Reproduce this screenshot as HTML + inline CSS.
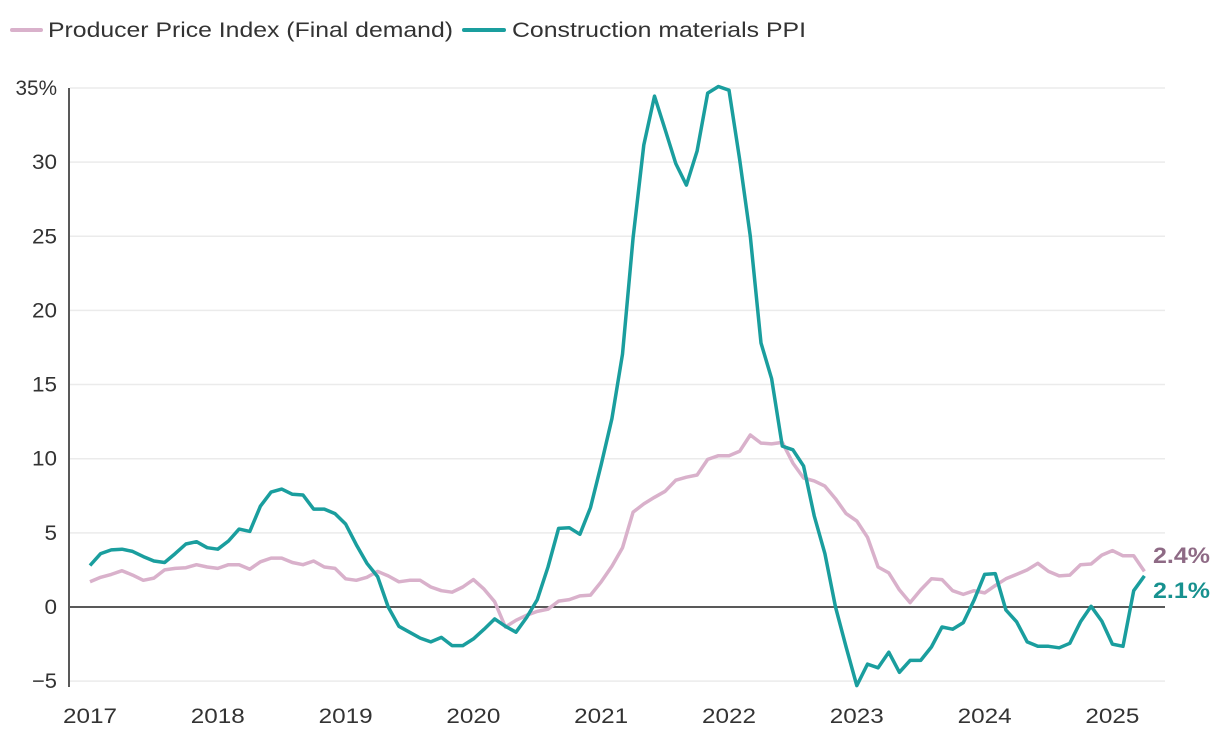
<!DOCTYPE html>
<html><head><meta charset="utf-8"><style>
html,body{margin:0;padding:0;background:#fff;}
svg{display:block;font-family:"Liberation Sans",sans-serif;}
</style></head><body>
<svg id="chart" width="1220" height="744" viewBox="0 0 1220 744" xmlns="http://www.w3.org/2000/svg">
<g>
<g>
<line x1="12" y1="30" x2="41" y2="30" stroke="#d9b1cb" stroke-width="4" stroke-linecap="round"/>
<text x="48" y="37" font-size="21" fill="#333" textLength="405" lengthAdjust="spacingAndGlyphs">Producer Price Index (Final demand)</text>
</g>
<g>
<line x1="464" y1="30" x2="504" y2="30" stroke="#1a9e9e" stroke-width="4" stroke-linecap="round"/>
<text x="512" y="37" font-size="21" fill="#333" textLength="294" lengthAdjust="spacingAndGlyphs">Construction materials PPI</text>
</g>
</g>
<g id="grid"></g>
<g id="yticks"></g>
<g id="xticks"></g>
<g id="series"></g>
<g id="labels"></g>
</svg>
<script>
const yTicks = [-5, 0, 5, 10, 15, 20, 25, 30, 35];
const yTickLabels = ["\u22125", "0", "5", "10", "15", "20", "25", "30", "35%"];
const xYears = [2017, 2018, 2019, 2020, 2021, 2022, 2023, 2024, 2025];
const ppi = [1.7,2.0,2.2,2.45,2.15,1.8,1.95,2.5,2.6,2.65,2.85,2.7,2.6,2.85,2.85,2.55,3.05,3.3,3.3,3.0,2.85,3.1,2.7,2.6,1.9,1.8,2.0,2.4,2.1,1.7,1.8,1.8,1.35,1.1,1.0,1.35,1.85,1.2,0.35,-1.35,-0.9,-0.55,-0.3,-0.15,0.4,0.5,0.75,0.8,1.7,2.75,4.0,6.4,6.95,7.4,7.8,8.55,8.75,8.9,9.95,10.2,10.2,10.5,11.6,11.05,11.0,11.1,9.7,8.7,8.5,8.15,7.3,6.3,5.8,4.7,2.7,2.3,1.15,0.3,1.15,1.9,1.85,1.1,0.85,1.1,0.95,1.45,1.9,2.2,2.5,2.95,2.4,2.1,2.15,2.85,2.9,3.5,3.8,3.45,3.45,2.4];
const construction = [2.8,3.6,3.85,3.9,3.75,3.4,3.1,3.0,3.6,4.25,4.4,4.0,3.9,4.45,5.25,5.1,6.8,7.75,7.95,7.6,7.55,6.6,6.6,6.3,5.6,4.2,2.95,2.05,0.0,-1.3,-1.7,-2.1,-2.35,-2.05,-2.6,-2.6,-2.15,-1.5,-0.8,-1.3,-1.7,-0.7,0.5,2.7,5.3,5.35,4.9,6.7,9.6,12.7,17.05,24.9,31.15,34.45,32.2,29.9,28.45,30.75,34.65,35.1,34.85,30.2,25.0,17.8,15.4,10.85,10.6,9.5,6.15,3.6,0.0,-2.7,-5.3,-3.85,-4.1,-3.05,-4.4,-3.6,-3.6,-2.7,-1.35,-1.5,-1.05,0.45,2.2,2.25,-0.2,-1.0,-2.35,-2.65,-2.65,-2.75,-2.45,-1.0,0.05,-0.95,-2.5,-2.65,1.1,2.1];
const endLabels = ["2.4%", "2.1%"];

const NS = "http://www.w3.org/2000/svg";
const X0 = 90, MONTH = 10.65, Y0 = 607, UNIT = 14.83;
const plotL = 70, plotR = 1165;
function xScale(i){ return X0 + i * MONTH; }
function yScale(v){ return Y0 - v * UNIT; }
function mk(tag, attrs, parent){
  const e = document.createElementNS(NS, tag);
  for (const k in attrs) e.setAttribute(k, attrs[k]);
  parent.appendChild(e); return e;
}
const grid = document.getElementById('grid');
const yt = document.getElementById('yticks');
yTicks.forEach((v, k) => {
  if (v !== 0) {
    const g = mk('line', {x1: plotL, x2: plotR, y1: yScale(v), y2: yScale(v), stroke: '#ebebeb', 'stroke-width': 1.5}, grid);
    
    
  }
  const lbl = yTickLabels[k];
  const w = lbl.length * 12.5 + (lbl.indexOf('%') >= 0 ? 4 : 0);
  const t = mk('text', {x: 57, y: yScale(v) + 7, 'text-anchor': 'end', 'font-size': 21, fill: '#333', textLength: w, lengthAdjust: 'spacingAndGlyphs'}, yt);
  t.textContent = lbl;
  
  
});
const ax = mk('line', {x1: 69, x2: 69, y1: yScale(35), y2: 687, stroke: '#222', 'stroke-width': 1.5}, yt);


const zl = mk('line', {x1: plotL, x2: plotR, y1: yScale(0), y2: yScale(0), stroke: '#222', 'stroke-width': 1.5}, grid);


const xt = document.getElementById('xticks');
xYears.forEach((yr, k) => {
  const t = mk('text', {x: xScale(k * 12), y: 723, 'text-anchor': 'middle', 'font-size': 21, fill: '#333', textLength: 54, lengthAdjust: 'spacingAndGlyphs'}, xt);
  t.textContent = yr;
  
  
});
const ser = document.getElementById('series');
function line(data, color, name){
  const d = data.map((v, i) => (i ? 'L' : 'M') + xScale(i).toFixed(1) + ',' + yScale(v).toFixed(1)).join('');
  const p = mk('path', {d: d, fill: 'none', stroke: color, 'stroke-width': 3.5, 'stroke-linejoin': 'round'}, ser);
  
  
}
line(ppi, '#d9b1cb', 'ppi-line');
line(construction, '#1a9e9e', 'construction-line');
const lb = document.getElementById('labels');
const l1 = mk('text', {x: 1153, y: 563, 'font-size': 22, 'font-weight': 'bold', fill: '#8e6a85', textLength: 57, lengthAdjust: 'spacingAndGlyphs'}, lb);
l1.textContent = endLabels[0];


const l2 = mk('text', {x: 1153, y: 598, 'font-size': 22, 'font-weight': 'bold', fill: '#17918f', textLength: 57, lengthAdjust: 'spacingAndGlyphs'}, lb);
l2.textContent = endLabels[1];


</script>
</body></html>
